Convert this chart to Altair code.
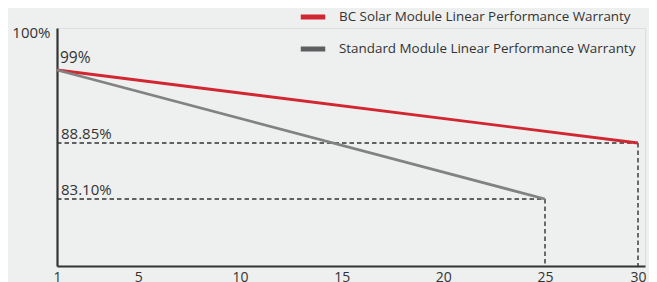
import altair as alt
import pandas as pd

# ---- data ----
series_names = [
    "BC Solar Module Linear Performance Warranty",
    "Standard Module Linear Performance Warranty",
]
bc_years = [1, 30]
bc_values = [99.0, 88.85]
std_years = [1, 25]
std_values = [99.0, 83.10]
x_ticks = [1, 5, 10, 15, 20, 25, 30]
y_top_value = 100
y_top_label = "100%"
start_label = "99%"
end_labels = ["88.85%", "83.10%"]
Y_FLOOR = 75
X_END = 30.35

# ---- styling ----
RED = "#d22630"
GRAY = "#828282"
LEGEND_GRAY = "#5d5e60"
INK = "#333333"
FONT = "Open Sans"
BG = "#eeefef"
W, H = 588, 238

lines_df = pd.DataFrame({
    "year": bc_years + std_years,
    "value": bc_values + std_values,
    "series": [series_names[0]] * len(bc_years) + [series_names[1]] * len(std_years),
})
ends_df = pd.DataFrame({
    "year": [bc_years[-1], std_years[-1]],
    "value": [bc_values[-1], std_values[-1]],
    "label": end_labels,
    "x0": [bc_years[0], std_years[0]],
    "floor": [Y_FLOOR, Y_FLOOR],
})
start_df = pd.DataFrame({"year": [bc_years[0]], "value": [bc_values[0]], "label": [start_label]})

x_scale = alt.Scale(domain=[1, 25, 30, X_END], range=[0, 488, 581, W], nice=False, zero=False)
y_scale = alt.Scale(domain=[Y_FLOOR, 83.10, 88.85, 99, 100], range=[H, 171, 115, 42, 0],
                    nice=False, zero=False)

x_axis = alt.Axis(values=x_ticks, ticks=False, grid=False, domainColor=INK, domainWidth=2.2,
                  labelFontSize=14, labelColor=INK, labelFont=FONT, labelPadding=4,
                  labelFlush=False, labelOverlap=False, title=None)
y_axis = alt.Axis(values=[y_top_value], labelExpr=f"'{y_top_label}'", ticks=False, grid=False,
                  domainColor=INK, domainWidth=2.2, labelFontSize=15, labelColor=INK,
                  labelFont=FONT, labelPadding=7, labelOffset=4, title=None)

base = alt.Chart(lines_df)

lines = base.mark_line(strokeWidth=2.8).encode(
    x=alt.X("year:Q", scale=x_scale, axis=x_axis),
    y=alt.Y("value:Q", scale=y_scale, axis=y_axis),
    color=alt.Color("series:N", scale=alt.Scale(domain=series_names, range=[RED, GRAY]), legend=None),
)

legend_layer = base.mark_line(opacity=0).encode(
    x=alt.X("year:Q", scale=x_scale),
    y=alt.Y("value:Q", scale=y_scale),
    stroke=alt.Stroke(
        "series:N",
        scale=alt.Scale(domain=series_names, range=[RED, LEGEND_GRAY]),
        legend=alt.Legend(orient="none", legendX=241, legendY=-26, title=None,
                          symbolType="stroke", symbolStrokeWidth=5, symbolSize=600,
                          symbolOpacity=1, labelFontSize=13.4, labelFont=FONT,
                          labelColor=INK, labelOffset=11, rowPadding=7, labelLimit=0,
                          padding=0),
    ),
)

h_rules = alt.Chart(ends_df).mark_rule(strokeDash=[4.5, 3], color=INK, strokeWidth=1.4).encode(
    x=alt.X("x0:Q", scale=x_scale), x2="year:Q",
    y=alt.Y("value:Q", scale=y_scale),
)
v_rules = alt.Chart(ends_df).mark_rule(strokeDash=[4.5, 3], color=INK, strokeWidth=1.4).encode(
    x=alt.X("year:Q", scale=x_scale),
    y=alt.Y("value:Q", scale=y_scale), y2="floor:Q",
)

end_text = alt.Chart(ends_df).mark_text(align="left", baseline="middle", dx=4, dy=-9,
                                        fontSize=15, font=FONT, color=INK).encode(
    x=alt.X("x0:Q", scale=x_scale),
    y=alt.Y("value:Q", scale=y_scale),
    text="label:N",
)
start_text = alt.Chart(start_df).mark_text(align="left", baseline="middle", dx=3, dy=-12,
                                           fontSize=15.5, font=FONT, color=INK).encode(
    x=alt.X("year:Q", scale=x_scale),
    y=alt.Y("value:Q", scale=y_scale),
    text="label:N",
)

chart = alt.layer(h_rules, v_rules, lines, legend_layer, end_text, start_text).resolve_scale(
    color="independent", stroke="independent"
).properties(
    width=W, height=H,
    autosize=alt.AutoSizeParams(type="none"),
    padding={"left": 49, "top": 20, "right": 4, "bottom": 16},
    background=BG,
).configure_view(stroke=None).configure(font=FONT)

chart.save("out.html", embed_options={"renderer": "svg", "actions": False})
